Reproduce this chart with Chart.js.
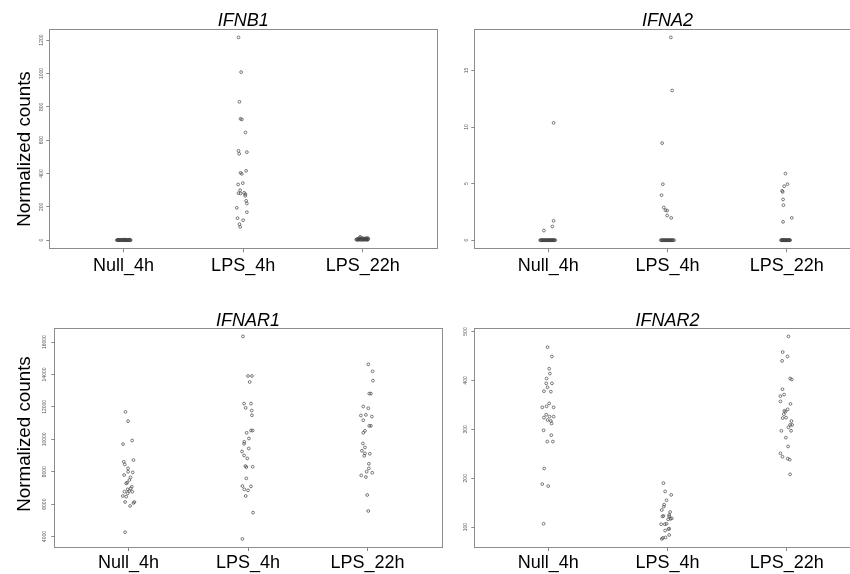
<!DOCTYPE html>
<html><head><meta charset="utf-8">
<script src="https://cdn.jsdelivr.net/npm/chart.js@4.4.1/dist/chart.umd.min.js"></script>
<style>
html,body{margin:0;padding:0;background:#fff;width:850px;height:574px;overflow:hidden;position:relative;}
.panel{position:absolute;}
.panel canvas{display:block;}
.ylab{position:absolute;width:220px;height:22px;line-height:22px;text-align:center;font-family:"Liberation Sans",Arial,sans-serif;font-size:18.8px;color:#000;transform:rotate(-90deg);white-space:nowrap;}
</style></head><body>
<div class="panel" style="left:0;top:0;width:445px;height:280px"><canvas id="c1" width="445" height="280"></canvas></div>
<div class="panel" style="left:425px;top:0;width:445px;height:280px"><canvas id="c2" width="445" height="280"></canvas></div>
<div class="panel" style="left:0;top:290px;width:450px;height:284px"><canvas id="c3" width="450" height="284"></canvas></div>
<div class="panel" style="left:425px;top:290px;width:445px;height:284px"><canvas id="c4" width="445" height="284"></canvas></div>
<div class="ylab" style="left:-86px;top:137.5px">Normalized counts</div>
<div class="ylab" style="left:-86px;top:423px">Normalized counts</div>
<script>
// ---------- data ----------
const categories = ['Null_4h', 'LPS_4h', 'LPS_22h'];

// IFNB1
const ifnb1Ticks = [0, 200, 400, 600, 800, 1000, 1200];
const ifnb1Null = [0,1,0,2,0,0,1,3,0,0,2,1,0,4,0,1,0,0,2,0,1,0,3,0,1,0,2,0];
const ifnb1NullJit = [-0.056,-0.05,-0.045,-0.039,-0.036,-0.03,-0.027,-0.02,-0.016,-0.012,-0.007,-0.002,0.003,0.008,0.013,0.017,0.021,0.027,0.03,0.035,0.04,0.043,0.048,0.052,0.057,0.06,-0.047,0.01];
const ifnb1Lps4 = [1216,1008,830,728,724,646,536,518,528,416,404,398,334,342,300,282,280,284,276,266,236,220,194,168,132,120,96,80];
const ifnb1Lps4Jit = [-0.039,-0.017,-0.031,-0.022,-0.011,0.019,-0.039,-0.033,0.031,0.025,-0.022,-0.011,-0.042,-0.003,-0.025,-0.039,-0.022,0.008,0.019,0.017,0.025,0.031,-0.053,0.031,-0.047,0.0,-0.031,-0.025];
const ifnb1Lps22 = [3,6,2,20,9,4,12,5,1,8,15,3,7,2,10,4,6,11,3,5,8,2,14,6,4,9,3,7];
const ifnb1Lps22Jit = [-0.055,-0.05,-0.044,-0.022,-0.038,-0.033,-0.029,-0.025,-0.019,-0.015,-0.01,-0.006,-0.002,0.003,0.007,0.011,0.015,0.019,0.023,0.027,0.031,0.034,0.037,0.04,0.043,0.047,-0.041,0.013];

// IFNA2
const ifna2Ticks = [0, 5, 10, 15];
const ifna2Null = [10.37,1.71,1.21,0.85,0,0,0,0,0,0,0,0,0,0,0,0,0,0,0,0,0,0,0,0,0,0,0,0,0,0];
const ifna2NullJit = [0.045,0.045,0.034,-0.036,-0.068,-0.063,-0.057,-0.052,-0.047,-0.041,-0.037,-0.031,-0.026,-0.022,-0.016,-0.011,-0.006,-0.001,0.004,0.009,0.014,0.019,0.024,0.029,0.034,0.038,0.043,0.048,0.053,0.059];
const ifna2Lps4 = [17.92,13.23,8.58,4.95,3.98,2.89,2.65,2.62,2.18,1.97,0,0,0,0,0,0,0,0,0,0,0,0,0,0,0,0,0,0,0,0];
const ifna2Lps4Jit = [0.028,0.039,-0.045,-0.039,-0.05,-0.031,-0.017,-0.003,-0.003,0.031,-0.056,-0.05,-0.044,-0.039,-0.033,-0.027,-0.021,-0.016,-0.01,-0.005,0.001,0.007,0.012,0.018,0.024,0.03,0.035,0.041,0.047,0.055];
const ifna2Lps22 = [5.89,4.95,4.77,4.36,4.27,3.6,3.09,1.97,1.62,0,0,0,0,0,0,0,0,0,0,0,0,0,0,0,0,0,0,0,0,0];
const ifna2Lps22Jit = [-0.011,0.006,-0.022,-0.039,-0.034,-0.031,-0.028,0.042,-0.031,-0.048,-0.044,-0.04,-0.036,-0.032,-0.028,-0.024,-0.021,-0.017,-0.013,-0.01,-0.006,-0.002,0.002,0.006,0.009,0.013,0.017,0.021,0.025,0.028];

// IFNAR1
const ifnar1Ticks = [4000, 6000, 8000, 10000, 12000, 14000, 16000];
const ifnar1Null = [11692,11118,9928,9703,8615,8451,8718,8205,8000,7959,7795,7651,7487,7323,7282,7077,6974,6913,6769,6810,6769,6503,6462,6667,6133,6133,6072,5887,4267];
const ifnar1NullJit = [-0.025,-0.003,0.031,-0.045,-0.039,-0.031,0.042,-0.003,-0.003,0.036,-0.036,0.017,0.008,-0.011,-0.019,0.028,0.019,-0.006,-0.033,0.006,0.033,-0.047,-0.019,-0.006,-0.028,0.05,0.042,0.014,-0.028];
const ifnar1Lps4 = [16349,13908,13908,13538,12205,12205,11938,11774,11487,10400,10544,10544,10051,9846,9723,9436,9251,9005,8821,8349,8287,8308,7590,7118,6913,6851,7097,6503,5477,3856];
const ifnar1Lps4Jit = [-0.042,0.0,0.033,0.014,-0.033,0.025,-0.019,0.031,0.033,-0.011,0.025,0.039,0.008,-0.031,-0.033,0.006,-0.05,-0.033,-0.006,-0.022,-0.014,0.039,-0.014,-0.047,-0.031,0.0,0.025,-0.019,0.042,-0.047];
const ifnar1Lps22 = [14626,14195,13621,12821,12821,12021,11918,11467,11508,11405,11179,10831,10831,10523,10400,9744,9497,9292,9128,8985,9108,8492,8205,8000,7938,7774,7672,6564,5579];
const ifnar1Lps22Jit = [0.006,0.042,0.045,0.014,0.028,-0.036,0.006,-0.056,-0.014,0.036,-0.036,0.014,0.028,-0.022,-0.036,-0.039,-0.022,-0.047,-0.022,-0.028,0.019,0.011,0.011,-0.008,0.039,-0.053,-0.014,-0.003,0.006];

// IFNAR2
const ifnar2Ticks = [100, 200, 300, 400, 500];
const ifnar2Null = [468,449,424,414,404,394,394,386,378,377,353,345,347,345,330,324,326,326,319,317,312,298,288,275,275,220,188,184,107];
const ifnar2NullJit = [-0.006,0.031,0.008,0.014,-0.014,-0.017,0.031,-0.006,-0.036,0.022,0.008,-0.05,-0.014,0.045,-0.017,-0.036,0.011,0.045,-0.006,0.022,0.028,-0.039,0.025,-0.008,0.039,-0.034,-0.05,0.0,-0.039];
const ifnar2Lps4 = [190,173,166,155,146,142,135,122,123,131,125,122,116,117,118,106,106,107,97,96,93,84,78,79,76];
const ifnar2Lps4Jit = [-0.034,-0.02,0.031,-0.008,-0.028,-0.031,-0.048,-0.042,-0.034,0.022,0.014,0.014,0.006,0.025,0.036,-0.053,-0.022,-0.008,0.014,0.008,-0.02,0.014,-0.039,-0.017,-0.048];
const ifnar2Lps22 = [490,458,449,440,404,402,382,371,368,357,352,341,338,336,331,323,324,317,309,309,304,297,297,283,265,251,244,240,238,208];
const ifnar2Lps22Jit = [0.014,-0.034,0.006,-0.039,0.028,0.042,-0.036,-0.022,-0.053,-0.053,0.031,0.008,-0.02,-0.011,-0.025,-0.034,-0.006,0.039,0.045,0.028,0.014,-0.045,0.036,-0.008,0.011,-0.053,-0.036,0.008,0.025,0.028];

// ---------- layout / style ----------
const FONT = '"Liberation Sans", Arial, sans-serif';
const panels = [
  {id:'c1', title:'IFNB1', ticks:ifnb1Ticks, groups:[[ifnb1Null,ifnb1NullJit],[ifnb1Lps4,ifnb1Lps4Jit],[ifnb1Lps22,ifnb1Lps22Jit]],
   yW:49.3, padR:8, tTop:12, tBot:-0.7, xPad:5.2, xH:31.7, yOff:7.6},
  {id:'c2', title:'IFNA2', ticks:ifna2Ticks, groups:[[ifna2Null,ifna2NullJit],[ifna2Lps4,ifna2Lps4Jit],[ifna2Lps22,ifna2Lps22Jit]],
   yW:49.3, padR:9.3, tTop:12, tBot:-0.7, xPad:5.2, xH:31.7, yOff:7.6},
  {id:'c3', title:'IFNAR1', ticks:ifnar1Ticks, groups:[[ifnar1Null,ifnar1NullJit],[ifnar1Lps4,ifnar1Lps4Jit],[ifnar1Lps22,ifnar1Lps22Jit]],
   yW:54.3, padR:8.3, tTop:21.7, tBot:-1.4, xPad:3.5, xH:27, yOff:9.3},
  {id:'c4', title:'IFNAR2', ticks:ifnar2Ticks, groups:[[ifnar2Null,ifnar2NullJit],[ifnar2Lps4,ifnar2Lps4Jit],[ifnar2Lps22,ifnar2Lps22Jit]],
   yW:49.3, padR:9.3, tTop:22, tBot:-1.7, xPad:3.2, xH:27, yOff:8.3}
];

const boxPlugin = {
  id: 'rbox',
  beforeDatasetsDraw(chart) {
    const {ctx, chartArea: a} = chart;
    ctx.save();
    ctx.strokeStyle = '#8c8c8c';
    ctx.lineWidth = 1;
    const l = Math.round(a.left) + 0.5, t = Math.round(a.top) + 0.5;
    const r = Math.round(a.right) + 0.5, b = Math.round(a.bottom) + 0.5;
    ctx.strokeRect(l, t, r - l, b - t);
    ctx.restore();
  }
};

const mctx = document.createElement('canvas').getContext('2d');
const TICK_SIZE = 5;
mctx.font = TICK_SIZE + 'px ' + FONT;

panels.forEach(p => {
  const all = p.groups.flatMap(g => g[0]);
  const lo = Math.min(...all), hi = Math.max(...all);
  const ext = (hi - lo) * 0.04;
  const widest = Math.max(...p.ticks.map(t => mctx.measureText(String(t)).width));
  const yTL = 3;
  const datasets = p.groups.map((g, gi) => ({
    data: g[0].map((v, i) => ({x: gi + 1 + g[1][i], y: v})),
    pointRadius: 1.4,
    pointBorderWidth: 0.7,
    pointBorderColor: '#444',
    pointBackgroundColor: 'rgba(0,0,0,0)',
    pointHoverRadius: 1.4,
    showLine: false
  }));
  new Chart(document.getElementById(p.id), {
    type: 'scatter',
    data: {datasets},
    plugins: [boxPlugin],
    options: {
      responsive: false,
      animation: false,
      events: [],
      layout: {padding: {left: 0, right: p.padR, top: 0, bottom: 0}},
      plugins: {
        legend: {display: false},
        tooltip: {enabled: false},
        title: {
          display: true, text: p.title, fullSize: false, color: '#000',
          font: {family: FONT, size: 18, style: 'italic', weight: 'normal', lineHeight: 1},
          padding: {top: p.tTop, bottom: p.tBot}
        }
      },
      scales: {
        x: {
          type: 'linear', min: 0.38, max: 3.62,
          afterBuildTicks: s => { s.ticks = [1, 2, 3].map(v => ({value: v})); },
          afterFit: s => { s.height = p.xH; },
          ticks: {
            autoSkip: false, maxRotation: 0, minRotation: 0, padding: p.xPad, color: '#000',
            font: {family: FONT, size: 18, lineHeight: 1},
            callback: v => categories[Math.round(v) - 1]
          },
          grid: {drawOnChartArea: false, drawTicks: true, tickLength: 4, color: '#888'},
          border: {display: false}
        },
        y: {
          type: 'linear', min: lo - ext, max: hi + ext,
          afterBuildTicks: s => { s.ticks = p.ticks.map(v => ({value: v})); },
          afterFit: s => { s.width = p.yW; },
          ticks: {
            autoSkip: false, minRotation: 90, maxRotation: 90, crossAlign: 'center',
            padding: p.yOff - yTL - widest / 2, color: '#555',
            font: {family: FONT, size: TICK_SIZE, lineHeight: 1},
            callback: v => String(v)
          },
          grid: {drawOnChartArea: false, drawTicks: true, tickLength: yTL, color: '#888'},
          border: {display: false}
        }
      }
    }
  });
});
</script>
</body></html>
